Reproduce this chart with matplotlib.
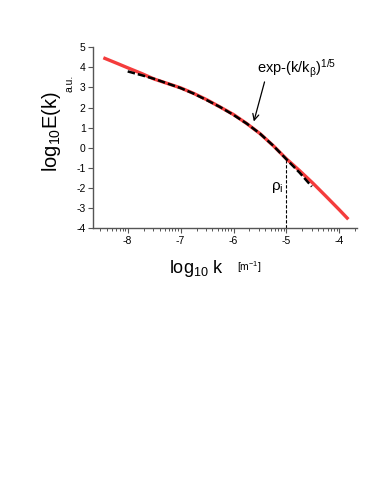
import matplotlib
matplotlib.use("Agg")
import numpy as np
import matplotlib.pyplot as plt
from matplotlib.ticker import FixedLocator

plt.rcParams['font.family'] = ['Liberation Sans', 'DejaVu Sans']

# === DATA ===
spec_x = [-8.46, -8.2, -8.0, -7.75, -7.5, -7.25, -7.0, -6.75, -6.5, -6.25,
          -6.0, -5.75, -5.5, -5.25, -5.0, -4.75, -4.5, -4.25, -4.0, -3.83]
spec_y = [4.48, 4.20, 3.98, 3.71, 3.42, 3.2, 2.98, 2.7, 2.38, 2.02,
          1.65, 1.2, 0.70, 0.10, -0.56, -1.15, -1.77, -2.43, -3.1, -3.57]

fit_x = [-8.0, -7.75, -7.5, -7.25, -7.0, -6.75, -6.5, -6.25, -6.0,
         -5.75, -5.5, -5.25, -5.0, -4.75, -4.52]
fit_y = [3.80, 3.62, 3.43, 3.2, 2.97, 2.69, 2.36, 2.02, 1.63,
         1.2, 0.70, 0.10, -0.58, -1.25, -1.94]

rho_x = -5.0
rho_y = -0.58

x_major = [-8, -7, -6, -5, -4]
y_major = [-4, -3, -2, -1, 0, 1, 2, 3, 4, 5]

# minor ticks: log spacing inside each decade of k
x_minor = [d + np.log10(m) for d in range(-9, -3) for m in range(2, 10)]
x_minor = [v for v in x_minor if -8.65 <= v <= -3.67]

fig = plt.figure(figsize=(3.74, 4.88), dpi=100)
ax = fig.add_axes([0.2495, 0.533, 0.7045, 0.37])

ax.plot(spec_x, spec_y, color='#f43c3c', lw=2.4, solid_capstyle='butt', zorder=2)
ax.plot(fit_x, fit_y, color='black', lw=1.8, dashes=(3, 1.2), zorder=3)
ax.plot([rho_x, rho_x], [-4, rho_y], color='black', lw=0.8, dashes=(3, 1.5), zorder=1)

ax.text(-5.06, -2.0, r'$\mathregular{\rho_i}$', fontsize=11, ha='right', va='center')
ax.text(-4.80, 3.95, r'exp-(k/k$\mathregular{_\beta}$)$\mathregular{^{1/5}}$',
        fontsize=10.5, ha='center', va='center')
ax.annotate('', xy=(-5.63, 1.17), xytext=(-5.40, 3.41),
            arrowprops=dict(arrowstyle='->', color='black', lw=0.9,
                            mutation_scale=11))

ax.set_xlim(-8.65, -3.67)
ax.set_ylim(-4, 5)
ax.xaxis.set_major_locator(FixedLocator(x_major))
ax.xaxis.set_minor_locator(FixedLocator(x_minor))
ax.yaxis.set_major_locator(FixedLocator(y_major))
ax.set_xticklabels([str(v) for v in x_major])
ax.set_yticklabels([str(v) for v in y_major])

for s in ['top', 'right']:
    ax.spines[s].set_visible(False)
for s in ['left', 'bottom']:
    ax.spines[s].set_color('#555555')
    ax.spines[s].set_linewidth(1.0)
ax.tick_params(axis='both', which='major', direction='out', length=3.5, width=0.8,
               color='#555555', labelsize=7.5, pad=2)
ax.tick_params(axis='x', which='minor', direction='out', length=2.5, width=0.7,
               color='#555555')

fig.text(0.138, 0.731, r'log$\mathregular{_{10}}$E(k)', rotation=90, fontsize=14.5,
         ha='center', va='center')
fig.text(0.185, 0.83, 'a.u.', rotation=90, fontsize=7.5, ha='center', va='center')
fig.text(0.525, 0.45, r'log$\mathregular{_{10}}$ k', fontsize=13, ha='center', va='center')
fig.text(0.665, 0.452, r'[m$\mathregular{^{-1}}$]', fontsize=7.5, ha='center', va='center')

fig.savefig('out.png', dpi=100)
